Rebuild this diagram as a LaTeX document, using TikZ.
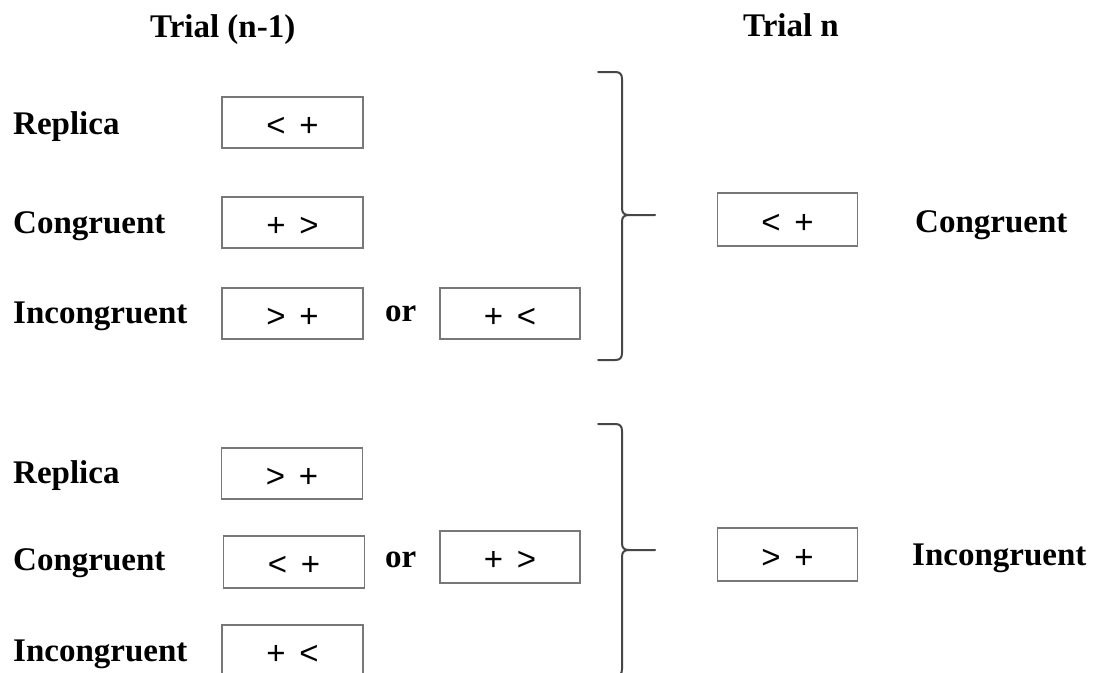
\documentclass[tikz,border=0pt]{standalone}
\usepackage{fontspec}
\setmainfont{Liberation Serif}
\newfontfamily\boxfont{Liberation Sans}
\definecolor{boxgray}{RGB}{120,120,120}
\definecolor{bracegray}{RGB}{70,70,70}
\tikzset{
  lbl/.style={inner sep=0pt, anchor=base west, font=\bfseries\fontsize{33}{36}\selectfont},
  stim/.style={draw=boxgray, line width=1.3pt, minimum width=141pt, minimum height=51pt,
    inner sep=0pt, text height=27pt, text depth=0pt, font=\boxfont\fontsize{33}{35}\selectfont},
  bracestyle/.style={draw=bracegray, line width=2pt, line cap=round}
}
\newcommand{\pair}[2]{#1\hspace{0.42em}#2}
\begin{document}
\begin{tikzpicture}[x=1pt,y=-1pt]
\useasboundingbox (0,0) rectangle (1097,672);
\clip (0,0) rectangle (1097,672);
% headers
\node[lbl] (h1) at (150,37) {Trial (n-1)};
\node[lbl] (h2) at (743,36) {Trial n};
% upper group
\node[lbl] (l1) at (13,134) {Replica};
\node[lbl] (l2) at (13,233) {Congruent};
\node[lbl] (l3) at (13,323) {Incongruent};
\node[lbl] (or1) at (385,321) {or};
\node[stim] (a1) at (292.5,122.5) {\pair{<}{+}};
\node[stim] (a2) at (292.5,222.5) {\pair{+}{>}};
\node[stim] (a3) at (292.5,313.5) {\pair{>}{+}};
\node[stim, minimum width=140pt] (a3b) at (510,313.5) {\pair{+}{<}};
\node[stim, minimum width=140pt, minimum height=53pt] (r1) at (787.5,219.5) {\pair{<}{+}};
\node[lbl] (rl1) at (915,232) {Congruent};
% lower group
\node[lbl] (m1) at (13,483) {Replica};
\node[lbl] (m2) at (13,570) {Congruent};
\node[lbl] (m3) at (13,661) {Incongruent};
\node[lbl] (or2) at (385,567) {or};
\node[stim] (b1) at (292,473.5) {\pair{>}{+}};
\node[stim, minimum height=52pt] (b2) at (294,562) {\pair{<}{+}};
\node[stim, minimum width=140pt, minimum height=52pt] (b2b) at (510,557) {\pair{+}{>}};
\node[stim] (b3) at (292.5,650.5) {\pair{+}{<}};
\node[stim, minimum width=140pt, minimum height=53pt] (r2) at (787.5,554.5) {\pair{>}{+}};
\node[lbl] (rl2) at (912,565) {Incongruent};
% braces
\coordinate (t1) at (598,72);
\coordinate (p1) at (655,215);
\coordinate (e1) at (598,360);
\draw[bracestyle] (t1) -- (615,72) .. controls (620,72) and (622,74) .. (622,79)
  -- (622,208) .. controls (622,213) and (624,215) .. (629,215) -- (p1);
\draw[bracestyle] (629,215) .. controls (624,215) and (622,217) .. (622,222)
  -- (622,353) .. controls (622,358) and (620,360) .. (615,360) -- (e1);
\coordinate (t2) at (598,424);
\coordinate (p2) at (655,550);
\coordinate (e2) at (598,676);
\draw[bracestyle] (t2) -- (615,424) .. controls (620,424) and (622,426) .. (622,431)
  -- (622,543) .. controls (622,548) and (624,550) .. (629,550) -- (p2);
\draw[bracestyle] (629,550) .. controls (624,550) and (622,552) .. (622,557)
  -- (622,669) .. controls (622,674) and (620,676) .. (615,676) -- (e2);
\end{tikzpicture}
\end{document}
